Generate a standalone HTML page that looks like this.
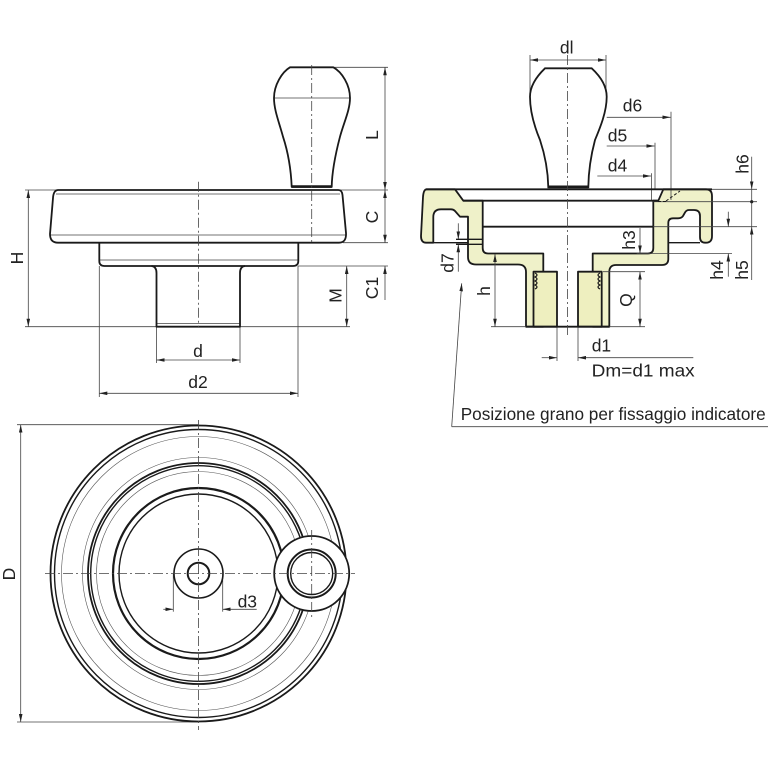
<!DOCTYPE html>
<html><head><meta charset="utf-8">
<style>
html,body{margin:0;padding:0;background:#fff}
svg{display:block}
text{font-family:"Liberation Sans",Arial,sans-serif;font-size:17.5px;fill:#222}
</style></head>
<body>
<svg width="768" height="768" viewBox="0 0 768 768" xmlns="http://www.w3.org/2000/svg">
<defs>
<marker id="a" viewBox="0 0 10 4" refX="10" refY="2" markerWidth="8" markerHeight="3.6" markerUnits="userSpaceOnUse" orient="auto-start-reverse" preserveAspectRatio="none"><path d="M0,0 L10,2 L0,4 z" fill="#222"/></marker>
</defs>

<!-- ================= SECTION VIEW FILLS ================= -->
<g fill="#eff1c9" stroke="#1a1a1a" stroke-width="1.8" stroke-linejoin="round">
<path d="M426.7,189.3 L455,189.3 L463.3,200.7 L482.7,200.7 L482.7,248 Q482.7,253.5 488,253.5 L543.3,253.5 L543.3,326.7 L526,326.7 L526,272 Q526,264.5 518,264.5 L476,264.5 Q468,264.5 468,257 L468,216.7 L460,216.7 L455,211 Q453.5,209.3 451,209.3 L441,209.3 Q433.3,209.3 433.3,217 L433.3,242.7 L426,242.7 Q421,242.7 421,236 L423,197 Q423.5,189.3 426.7,189.3 Z"/>
<path d="M663.3,189.3 L706,189.3 Q712,189.3 712,196 L712,236 Q712,242.7 706,242.7 L705,242.7 Q700,242.7 700,237 L700,216 Q700,210 694,210 L689,210 Q686.5,210 685,212.5 L683,216 Q681.5,218.3 678,218.3 L673,218.3 Q668.3,218.3 668.3,223 L668.3,259 Q668.3,265 662,265 L616,265 Q609.3,265 609.3,272 L609.3,326.7 L592.7,326.7 L592.7,253.5 L648,253.5 Q653.3,253.5 653.3,248 L653.3,200.7 L658.3,200.7 Z"/>
<rect x="533.5" y="271.7" width="23.5" height="55" fill="#eeefbf"/>
<rect x="578" y="271.7" width="23.7" height="55" fill="#eeefbf"/>
</g>
<!-- thread wiggles -->
<g fill="none" stroke="#1a1a1a" stroke-width="1.2">
<path d="M535,273 q4,2 0,4 q4,2 0,4 q4,2 0,4 q4,2 0,4"/>
<path d="M600,273 q-4,2 0,4 q-4,2 0,4 q-4,2 0,4 q-4,2 0,4"/>
</g>

<!-- ================= THIN DIMENSION / EXTENSION LINES ================= -->
<g fill="none" stroke="#444" stroke-width="0.8">
<!-- side view -->
<line x1="25" y1="190" x2="388" y2="190"/>
<line x1="333" y1="67.3" x2="388" y2="67.3"/>
<line x1="343" y1="242.7" x2="388" y2="242.7"/>
<line x1="298" y1="266" x2="388" y2="266"/>
<line x1="25" y1="326.7" x2="350" y2="326.7"/>
<line x1="274" y1="98" x2="350" y2="98"/>
<line x1="56" y1="194" x2="340" y2="194"/>
<line x1="50.5" y1="235" x2="346" y2="235"/>
<line x1="99.3" y1="260" x2="298.3" y2="260"/>
<line x1="157" y1="323.5" x2="240" y2="323.5"/>
<line x1="156.5" y1="327" x2="156.5" y2="363"/>
<line x1="240" y1="327" x2="240" y2="363"/>
<line x1="99.3" y1="266" x2="99.3" y2="397"/>
<line x1="298" y1="266" x2="298" y2="397"/>
<line x1="385" y1="67.3" x2="385" y2="190" marker-start="url(#a)" marker-end="url(#a)"/>
<line x1="385" y1="190" x2="385" y2="242.7" marker-start="url(#a)" marker-end="url(#a)"/>
<line x1="385" y1="300" x2="385" y2="266" marker-end="url(#a)"/>
<line x1="346.7" y1="266" x2="346.7" y2="326.7" marker-start="url(#a)" marker-end="url(#a)"/>
<line x1="28.3" y1="190" x2="28.3" y2="326.7" marker-start="url(#a)" marker-end="url(#a)"/>
<line x1="156.5" y1="360" x2="240" y2="360" marker-start="url(#a)" marker-end="url(#a)"/>
<line x1="99.3" y1="393.3" x2="298" y2="393.3" marker-start="url(#a)" marker-end="url(#a)"/>

<!-- section view -->
<line x1="530" y1="55" x2="530" y2="97"/>
<line x1="606" y1="55" x2="606" y2="97"/>
<line x1="530" y1="96.7" x2="606" y2="96.7"/>
<line x1="530" y1="60" x2="606" y2="60" marker-start="url(#a)" marker-end="url(#a)"/>
<line x1="606.7" y1="117.3" x2="670.5" y2="117.3" marker-end="url(#a)"/>
<line x1="671" y1="111.7" x2="671" y2="200"/>
<line x1="606.7" y1="146" x2="654.5" y2="146" marker-end="url(#a)"/>
<line x1="655" y1="142.7" x2="655" y2="190"/>
<line x1="597.3" y1="176" x2="651" y2="176" marker-end="url(#a)"/>
<line x1="651.5" y1="173.3" x2="651.5" y2="201"/>
<line x1="712" y1="189.3" x2="757" y2="189.3"/>
<line x1="653" y1="201.7" x2="757" y2="201.7"/>
<line x1="653" y1="226.7" x2="757" y2="226.7"/>
<line x1="636.7" y1="253.5" x2="732" y2="253.5"/>
<line x1="603" y1="271.7" x2="645" y2="271.7"/>
<line x1="609" y1="326.7" x2="645" y2="326.7"/>
<line x1="491" y1="326.7" x2="526" y2="326.7"/>
<line x1="751.7" y1="156.7" x2="751.7" y2="189.3" marker-end="url(#a)"/>
<line x1="751.7" y1="189.3" x2="751.7" y2="226.7"/>
<line x1="751.7" y1="280" x2="751.7" y2="226.7" marker-end="url(#a)"/>
<line x1="728.3" y1="211.7" x2="728.3" y2="226.7" marker-end="url(#a)"/>
<line x1="728.3" y1="276.7" x2="728.3" y2="253.5" marker-end="url(#a)"/>
<line x1="640" y1="228" x2="640" y2="253.5" marker-end="url(#a)"/>
<line x1="640" y1="271.7" x2="640" y2="326.7" marker-start="url(#a)" marker-end="url(#a)"/>
<line x1="495" y1="254" x2="495" y2="326.7" marker-start="url(#a)" marker-end="url(#a)"/>
<line x1="458.3" y1="223.3" x2="458.3" y2="239.3" marker-end="url(#a)"/>
<line x1="458.3" y1="271.7" x2="458.3" y2="244.3" marker-end="url(#a)"/>
<line x1="557" y1="327" x2="557" y2="361"/>
<line x1="578" y1="327" x2="578" y2="361"/>
<line x1="541.7" y1="357.7" x2="557" y2="357.7" marker-end="url(#a)"/>
<line x1="693.3" y1="357.7" x2="578" y2="357.7" marker-end="url(#a)"/>
<line x1="451.7" y1="426.7" x2="768" y2="426.7"/>
<line x1="451.7" y1="426.7" x2="461.7" y2="283.3" marker-end="url(#a)"/>

<!-- circle view -->
<line x1="17" y1="424.7" x2="198.5" y2="424.7"/>
<line x1="17" y1="722" x2="198.5" y2="722"/>
<line x1="20.7" y1="424.7" x2="20.7" y2="722" marker-start="url(#a)" marker-end="url(#a)"/>
<line x1="173.3" y1="573.5" x2="173.3" y2="611.7"/>
<line x1="222.7" y1="573.5" x2="222.7" y2="611.7"/>
<line x1="163.3" y1="609.3" x2="173.3" y2="609.3" marker-end="url(#a)"/>
<line x1="256.7" y1="609.3" x2="222.7" y2="609.3" marker-end="url(#a)"/>
</g>
<circle cx="751.7" cy="201.7" r="1.6" fill="#222"/>

<!-- ================= SIDE VIEW OUTLINES ================= -->
<g fill="none" stroke="#1a1a1a" stroke-width="1.8" stroke-linejoin="round">
<path d="M290,67.3 L333.3,67.3 C342,72 350,85 350,98 C350,110 344,122 340,136.7 C336,152 332,170 331.7,187 L291.7,187 C291,170 288,152 283,136.7 C279,122 274,110 274,98 C274,85 282,72 290,67.3 Z"/>
<path d="M58.3,190 L338.3,190 Q342,190 342.5,195 L346,233 Q346.5,242.7 339,242.7 L58,242.7 Q50,242.7 50,234 L53,198 Q53.5,190 58.3,190 Z"/>
<path d="M99.3,242.7 L99.3,261 Q99.3,266 104.5,266 L293,266 Q298.3,266 298.3,261 L298.3,242.7"/>
<path d="M151.5,266 Q156.5,266.5 156.5,273 L156.5,326.7 L240,326.7 L240,273 Q240,266.5 245,266"/>
</g>
<line x1="292" y1="186.5" x2="331.5" y2="186.5" stroke="#1a1a1a" stroke-width="2.6"/>

<!-- ================= SECTION VIEW OUTLINES ================= -->
<g fill="none" stroke="#1a1a1a" stroke-width="1.8">
<path d="M545,68.3 L591.7,68.3 C600,76 606.7,86 606.7,96.7 C606.7,112 600,128 595,140 C591,155 588.5,172 588.3,187.3 L548.3,187.3 C548,172 545,155 540,140 C535,128 530,112 530,96.7 C530,86 537,76 545,68.3 Z" fill="#fff"/>
<line x1="426" y1="189.3" x2="712" y2="189.3"/>
<line x1="463" y1="200.7" x2="658.3" y2="200.7"/>
<line x1="482.7" y1="226.7" x2="653.3" y2="226.7"/>
<line x1="433.3" y1="242.7" x2="468" y2="242.7" stroke-width="1.4"/>
<line x1="668.3" y1="242.7" x2="700" y2="242.7" stroke-width="1.4"/>
<line x1="456" y1="239.3" x2="483" y2="239.3" stroke-width="1.4"/>
<line x1="456" y1="244.3" x2="483" y2="244.3" stroke-width="1.4"/>
<line x1="526" y1="326.7" x2="609.3" y2="326.7"/>
</g>
<line x1="548.5" y1="186.8" x2="588" y2="186.8" stroke="#1a1a1a" stroke-width="2.6"/>
<g fill="none" stroke="#1a1a1a" stroke-width="1" stroke-dasharray="3 2">
<line x1="666" y1="201" x2="680" y2="191"/>
<line x1="658" y1="201.5" x2="666" y2="201.5"/>
</g>

<!-- ================= CIRCLE VIEW ================= -->
<g fill="none" stroke="#1a1a1a">
<circle cx="198.5" cy="573.5" r="148" stroke-width="1.8"/>
<circle cx="198.5" cy="573.5" r="144" stroke-width="1.4"/>
<circle cx="198.5" cy="573.5" r="137" stroke-width="0.6" stroke="#555"/>
<circle cx="198.5" cy="573.5" r="116" stroke-width="0.6" stroke="#555"/>
<circle cx="198.5" cy="573.5" r="110.5" stroke-width="1.8"/>
<circle cx="198.5" cy="573.5" r="107.8" stroke-width="1.4"/>
<circle cx="198.5" cy="573.5" r="102" stroke-width="0.6" stroke="#555"/>
<circle cx="198.5" cy="573.5" r="85.5" stroke-width="2.2"/>
<circle cx="198.5" cy="573.5" r="79.5" stroke-width="1.4"/>
<circle cx="198.5" cy="573.5" r="24.5" stroke-width="1.6"/>
<circle cx="198.5" cy="573.5" r="10.8" stroke-width="2"/>
<circle cx="311.7" cy="573.5" r="37.5" stroke-width="1.8" fill="#fff"/>
<circle cx="311.7" cy="573.5" r="24" stroke-width="2"/>
<circle cx="311.7" cy="573.5" r="21" stroke-width="1.4"/>
</g>

<!-- ================= CENTER LINES ================= -->
<g stroke="#444" stroke-width="0.8" stroke-dasharray="10 3 2 3" fill="none">
<line x1="198.5" y1="181.7" x2="198.5" y2="327"/>
<line x1="311.7" y1="65" x2="311.7" y2="245"/>
<line x1="567.5" y1="55" x2="567.5" y2="335"/>
<line x1="45" y1="573.5" x2="355" y2="573.5"/>
<line x1="198.5" y1="420" x2="198.5" y2="730"/>
<line x1="311.7" y1="530" x2="311.7" y2="618"/>
</g>

<!-- ================= TEXT ================= -->
<text x="198" y="357" text-anchor="middle">d</text>
<text x="198" y="388" text-anchor="middle">d2</text>
<text transform="translate(378,135) rotate(-90)" text-anchor="middle">L</text>
<text transform="translate(378,217) rotate(-90)" text-anchor="middle">C</text>
<text transform="translate(378,288) rotate(-90)" text-anchor="middle">C1</text>
<text transform="translate(341.7,295.5) rotate(-90)" text-anchor="middle">M</text>
<text transform="translate(23,258) rotate(-90)" text-anchor="middle">H</text>

<text x="566.7" y="53.3" text-anchor="middle">dl</text>
<text x="632.5" y="111.7" text-anchor="middle">d6</text>
<text x="617.5" y="141.7" text-anchor="middle">d5</text>
<text x="617.5" y="171.7" text-anchor="middle">d4</text>
<text transform="translate(748.3,164) rotate(-90)" text-anchor="middle">h6</text>
<text transform="translate(635,240) rotate(-90)" text-anchor="middle">h3</text>
<text transform="translate(723,270) rotate(-90)" text-anchor="middle">h4</text>
<text transform="translate(748,270) rotate(-90)" text-anchor="middle">h5</text>
<text transform="translate(632,300) rotate(-90)" text-anchor="middle">Q</text>
<text transform="translate(490,291) rotate(-90)" text-anchor="middle">h</text>
<text transform="translate(453.3,263) rotate(-90)" text-anchor="middle">d7</text>
<text x="591.7" y="351.7">d1</text>
<text x="591.7" y="376.7" textLength="103" lengthAdjust="spacingAndGlyphs">Dm=d1 max</text>
<text x="460.7" y="420" textLength="305" lengthAdjust="spacingAndGlyphs">Posizione grano per fissaggio indicatore</text>

<text transform="translate(15,574) rotate(-90)" text-anchor="middle">D</text>
<text x="247.3" y="607.3" text-anchor="middle">d3</text>
</svg>
</body></html>
